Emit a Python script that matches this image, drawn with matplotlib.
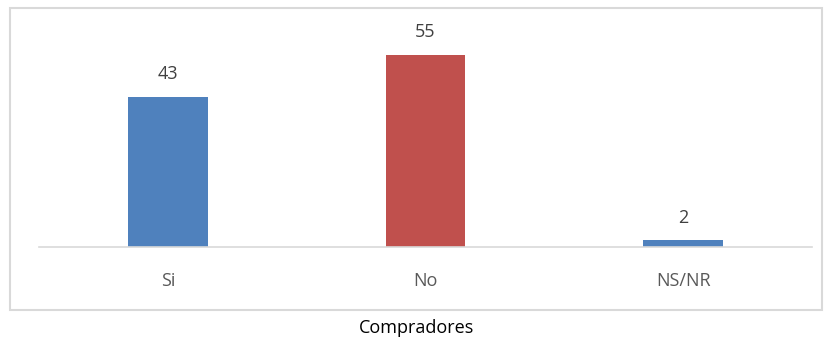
import matplotlib
matplotlib.use("Agg")
import matplotlib.pyplot as plt
from matplotlib.patches import Rectangle

categories = ["Si", "No", "NS/NR"]
values = [43, 55, 2]
colors = ["#4F81BD", "#C0504D", "#4F81BD"]
xlabel = "Compradores"

plt.rcParams['font.family'] = ['Open Sans', 'DejaVu Sans']

W, H = 829, 341
fig = plt.figure(figsize=(W / 100, H / 100), dpi=100)

# outer chart border
fig.patches.append(Rectangle((10 / W, 1 - 310 / H), 812 / W, 302 / H,
                             transform=fig.transFigure, fill=False,
                             edgecolor="#D9D9D9", linewidth=1.5))

ax = fig.add_axes([39 / W, 1 - 247 / H, 773 / W, 210 / H])
x = range(len(categories))
bars = ax.bar(x, values, width=0.31, color=colors)
ax.set_xlim(-0.5, len(categories) - 0.5)
ax.set_ylim(0, 60)

for b, v in zip(bars, values):
    ax.annotate(str(v), (b.get_x() + b.get_width() / 2, v),
                xytext=(0, 16), textcoords="offset points",
                ha="center", va="center", fontsize=13, color="#404040")

for s in ["top", "right", "left"]:
    ax.spines[s].set_visible(False)
ax.spines["bottom"].set_color("#D9D9D9")
ax.spines["bottom"].set_linewidth(1.2)
ax.set_yticks([])
ax.set_xticks(list(x))
ax.set_xticklabels(categories, fontsize=13, color="#595959")
ax.tick_params(axis="x", length=0, pad=18)

fig.text(417 / W, 1 - 328 / H, xlabel, ha="center", va="center",
         fontsize=13, color="black")

fig.savefig("out.png", dpi=100)
